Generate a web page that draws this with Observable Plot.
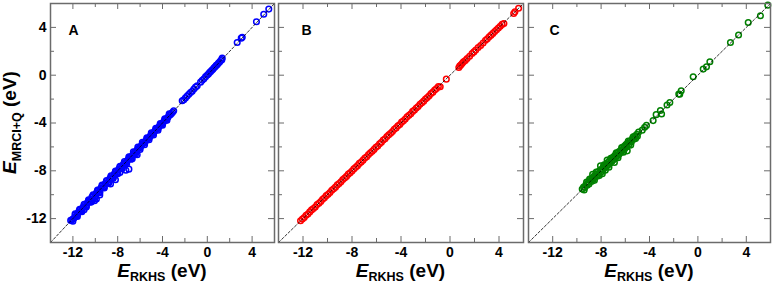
<!DOCTYPE html>
<html><head><meta charset="utf-8">
<script src="https://cdn.jsdelivr.net/npm/d3@7"></script>
<script src="https://cdn.jsdelivr.net/npm/@observablehq/plot@0.6"></script>
<style>
body{margin:0;background:#fff}
#chart{position:relative;width:772px;height:284px;font-family:"Liberation Sans",Arial,Helvetica,sans-serif}
#chart svg{position:absolute;top:0}
</style></head><body><div id="chart"></div>
<script>
const majorTicks = [-12, -8, -4, 0, 4];
const minorTicks = [-10, -6, -2, 2];
const diagonal = [-14, 6];
const panelLetters = ["A", "B", "C"];
const xTitle = ["E", "RKHS", "(eV)"];
const yTitle = ["E", "MRCI+Q", "(eV)"];

// Panel A (blue)
const rkhsA = [
 -12.2,-12.1,-12.0,-11.9,-11.8,-11.7,-11.6,-11.5,-11.4,-11.3,
 -11.2,-11.1,-11.0,-10.9,-10.8,-10.7,-10.6,-10.5,-10.4,-10.3,
 -10.2,-10.1,-10.0,-9.9,-9.8,-9.7,-9.6,-9.5,-9.4,-9.3,
 -9.2,-9.1,-9.0,-8.9,-8.8,-8.7,-8.6,-8.5,-8.4,-8.3,
 -8.2,-8.1,-8.0,-7.9,-7.8,-7.7,-7.6,-7.5,-7.4,-7.3,
 -7.2,-7.1,-7.0,-6.9,-6.8,-6.7,-6.6,-6.5,-6.4,-6.3,
 -6.2,-6.1,-6.0,-5.9,-5.8,-5.7,-5.6,-5.5,-5.4,-5.3,
 -5.2,-5.1,-5.0,-4.9,-4.8,-4.7,-4.6,-4.5,-4.4,-4.3,
 -4.2,-4.1,-4.0,-3.9,-3.8,-3.7,-3.6,-3.5,-3.4,-3.3,
 -3.2,-3.1,-3.0,
 -12.0,-11.6,-11.2,-10.8,-10.4,-10.0,-9.6,-9.2,-8.8,-8.4,-8.0,
 -7.6,-7.2,-6.8,-6.4,-6.0,-5.6,-5.2,-4.8,-4.4,-4.0,-3.6,
 -11.8,-11.4,-11.0,-10.6,-10.2,-9.8,-9.4,-9.0,-8.6,-8.2,-7.8,
 -7.4,-7.0,-6.6,-6.2,-5.8,-5.4,-5.0,-4.6,-4.2,-3.8,-3.4,
 -10.07,-10.3,-9.9,-9.6,-11.0,-8.64,-8.2,-7.8,-7.27,-7.0,-6.7,-6.26,
 -2.24,-2.1,-1.95,-1.8,-1.65,-1.5,-1.35,-1.2,-1.05,-0.9,
 -0.6,-0.45,-0.3,-0.15,0,0.1,0.2,0.3,0.4,0.5,
 0.6,0.7,0.8,0.9,1.0,1.1,1.2,1.3,1.33,
 2.67,3.03,3.12,4.39,5.04,5.49
];
const mrciA = [
 -12.15,-12.1,-12.05,-11.95,-11.7,-11.8,-11.65,-11.45,-11.3,-11.4,
 -11.3,-11.05,-10.9,-11.0,-10.95,-10.65,-10.5,-10.55,-10.6,-10.2,
 -10.1,-10.25,-10.15,-9.85,-9.7,-9.8,-9.75,-9.45,-9.3,-9.4,
 -9.35,-9.05,-8.9,-9.0,-8.95,-8.65,-8.5,-8.6,-8.55,-8.25,
 -8.1,-8.2,-8.15,-7.85,-7.7,-7.8,-7.7,-7.45,-7.35,-7.35,
 -7.25,-7.1,-6.95,-6.85,-6.9,-6.75,-6.55,-6.5,-6.45,-6.3,
 -6.15,-6.1,-6.05,-5.9,-5.75,-5.7,-5.65,-5.5,-5.35,-5.3,
 -5.25,-5.1,-4.95,-4.9,-4.85,-4.7,-4.55,-4.5,-4.45,-4.3,
 -4.15,-4.1,-4.05,-3.9,-3.75,-3.7,-3.6,-3.5,-3.35,-3.3,
 -3.2,-3.1,-2.98,
 -12.22,-11.82,-11.42,-11.02,-10.63,-10.22,-9.84,-9.43,-9.02,-8.63,-8.24,
 -7.83,-7.42,-7.03,-6.6,-6.22,-5.82,-5.4,-5.0,-4.6,-4.18,-3.78,
 -11.6,-11.22,-10.8,-10.42,-10.0,-9.62,-9.2,-8.82,-8.42,-8.02,-7.62,
 -7.22,-6.82,-6.42,-6.02,-5.62,-5.24,-4.82,-4.44,-4.04,-3.64,-3.24,
 -10.5,-10.55,-10.35,-10.03,-11.25,-9.1,-8.75,-8.15,-7.95,-7.86,-7.0,-6.66,
 -2.14,-2.05,-1.9,-1.75,-1.6,-1.45,-1.35,-1.15,-1.0,-0.89,
 -0.58,-0.42,-0.3,-0.12,0.02,0.1,0.22,0.3,0.42,0.5,
 0.62,0.7,0.82,0.9,1.02,1.1,1.22,1.3,1.43,
 2.74,3.1,3.18,4.47,5.1,5.53
];

// Panel B (red)
const rkhsB = [
 -12.2,-12.05,-11.9,-11.75,-11.6,-11.45,-11.3,-11.15,-11.0,-10.85,
 -10.7,-10.55,-10.4,-10.25,-10.1,-9.95,-9.8,-9.65,-9.5,-9.35,
 -9.2,-9.05,-8.9,-8.75,-8.6,-8.45,-8.3,-8.15,-8.0,-7.85,
 -7.7,-7.55,-7.4,-7.25,-7.1,-6.95,-6.8,-6.65,-6.5,-6.35,
 -6.2,-6.05,-5.9,-5.75,-5.6,-5.45,-5.3,-5.15,-5.0,-4.85,
 -4.7,-4.55,-4.4,-4.25,-4.1,-3.95,-3.8,-3.65,-3.5,-3.35,
 -3.2,-3.05,-2.9,-2.75,-2.6,-2.45,-2.3,-2.15,-2.0,-1.85,
 -1.7,-1.55,-1.4,-1.25,-1.1,-0.95,-0.8,
 -0.3,0.72,0.8,0.9,1.0,1.1,1.25,1.4,1.6,1.8,
 1.95,2.1,2.3,2.5,2.7,2.9,3.05,3.2,3.35,3.5,
 3.65,3.8,3.95,4.1,4.25,4.4,5.2,5.3,5.6
];
const mrciB = [
 -12.18,-12.03,-11.91,-11.72,-11.62,-11.44,-11.27,-11.16,-11.03,-10.83,
 -10.71,-10.57,-10.38,-10.26,-10.08,-9.96,-9.82,-9.63,-9.51,-9.37,
 -9.18,-9.06,-8.92,-8.73,-8.61,-8.47,-8.28,-8.16,-8.02,-7.84,
 -7.71,-7.57,-7.38,-7.26,-7.11,-6.93,-6.82,-6.64,-6.49,-6.37,
 -6.21,-6.03,-5.92,-5.74,-5.61,-5.43,-5.32,-5.14,-4.98,-4.86,
 -4.72,-4.53,-4.41,-4.24,-4.12,-3.93,-3.81,-3.66,-3.48,-3.36,
 -3.22,-3.03,-2.91,-2.74,-2.62,-2.43,-2.31,-2.17,-1.99,-1.86,
 -1.72,-1.53,-1.42,-1.24,-1.12,-0.94,-0.97,
 -0.33,0.64,0.78,0.88,1.0,1.12,1.22,1.4,1.58,1.82,
 1.95,2.1,2.32,2.48,2.7,2.92,3.05,3.22,3.35,3.5,
 3.66,3.8,3.95,4.1,4.25,4.33,5.16,5.3,5.6
];

// Panel C (green)
const rkhsC = [
 -9.56,-9.45,-9.35,-9.25,-9.15,-9.05,-9.0,-8.9,-8.8,-8.75,
 -8.7,-8.65,-8.6,-8.5,-8.45,-8.35,-8.3,-8.2,-8.1,-8.05,
 -8.0,-7.95,-7.9,-7.85,-7.8,-7.7,-7.6,-7.55,-7.5,-7.45,
 -7.4,-7.3,-7.25,-7.15,-7.1,-7.0,-6.95,-6.9,-6.85,-6.8,
 -6.7,-6.65,-6.55,-6.5,-6.4,-6.35,-6.25,-6.2,-6.1,-6.05,
 -5.95,-5.9,-5.84,-5.8,-5.7,-5.6,-5.5,-5.4,-5.3,-5.2,
 -5.05,-5.0,-4.9,
 -9.4,-9.2,-8.95,-8.55,-8.4,-8.15,-7.75,-7.65,-7.35,-7.2,
 -6.75,-6.6,-6.3,-6.15,-5.75,-5.55,-5.35,-5.15,
 -4.6,-4.4,-4.25,-3.7,-3.45,-3.1,-3.0,-2.55,-2.32,-1.58,
 -1.38,-1.5,-0.39,0.44,0.71,0.99,2.69,3.36,4.16,5.17,5.78
];
const mrciC = [
 -9.53,-9.35,-9.4,-9.15,-9.2,-8.95,-9.1,-8.8,-8.9,-8.6,
 -8.3,-8.7,-8.45,-8.55,-8.3,-8.45,-8.1,-8.3,-7.95,-7.58,
 -8.1,-7.85,-8.25,-7.95,-7.6,-7.75,-7.45,-7.65,-7.1,-7.3,
 -7.5,-7.15,-7.35,-7.0,-7.2,-6.85,-7.05,-7.3,-6.7,-6.9,
 -6.55,-6.75,-6.4,-6.6,-6.3,-6.45,-6.1,-6.3,-5.95,-6.15,
 -5.8,-6.0,-6.33,-5.65,-5.8,-5.5,-5.6,-5.3,-5.35,-5.1,
 -4.95,-5.1,-4.75,
 -9.6,-8.95,-8.7,-8.8,-8.1,-8.4,-7.5,-7.95,-7.7,-6.95,
 -6.5,-6.9,-6.05,-6.45,-5.5,-5.85,-5.15,-5.3,
 -4.6,-4.35,-4.2,-3.8,-3.3,-2.95,-3.25,-2.5,-2.28,-1.58,
 -1.3,-1.6,-0.13,0.51,0.7,1.12,2.74,3.36,4.41,4.97,5.86
];

const FONT = '"Liberation Sans", Arial, Helvetica, sans-serif';
const H = 284, MT = 3, MB = 42;
const frameColor = "#6b6b6b";

const panels = [
  {x: rkhsA, y: mrciA, color: "#0000ff", left: 0,   width: 276, ml: 50, mr: 2, yAxis: true,  ldx: 18},
  {x: rkhsB, y: mrciB, color: "#ff0000", left: 276, width: 249, ml: 2,  mr: 2, yAxis: false, ldx: 23},
  {x: rkhsC, y: mrciC, color: "#008000", left: 525, width: 247, ml: 3,  mr: 2, yAxis: false, ldx: 21}
];

const chart = document.getElementById("chart");

panels.forEach((p, i) => {
  const pts = p.x.map((v, k) => ({rkhs: v, mrci: p.y[k]}));
  const ph = H - MT - MB;
  const pw = p.width - p.ml - p.mr;
  const tk = {stroke: frameColor, strokeWidth: 1};
  const marks = [
    Plot.dot(pts, {x: "rkhs", y: "mrci", r: 2.8, stroke: p.color, strokeWidth: 1.5, fill: "none"}),
    Plot.line(diagonal, {x: d => d, y: d => d, stroke: "#000", strokeWidth: 0.8, strokeDasharray: "2.5,2"}),
    Plot.ruleX(majorTicks, {...tk, insetTop: ph - 6}),
    Plot.ruleX(majorTicks, {...tk, insetBottom: ph - 6}),
    Plot.ruleX(minorTicks, {...tk, insetTop: ph - 4}),
    Plot.ruleX(minorTicks, {...tk, insetBottom: ph - 4}),
    Plot.ruleY(majorTicks, {...tk, insetRight: pw - 6}),
    Plot.ruleY(majorTicks, {...tk, insetLeft: pw - 6}),
    Plot.ruleY(minorTicks, {...tk, insetRight: pw - 4}),
    Plot.ruleY(minorTicks, {...tk, insetLeft: pw - 4}),
    Plot.frame({stroke: frameColor, strokeWidth: 1.5}),
    Plot.axisX({ticks: majorTicks, tickSize: 0, tickPadding: 5, tickFormat: d => String(d),
      fontSize: 14, fontWeight: "bold", label: null, fill: "#000"}),
    Plot.text([panelLetters[i]], {text: d => d, frameAnchor: "top-left", dx: p.ldx, dy: 22,
      fontSize: 14, fontWeight: "bold", fill: "#000"})
  ];
  if (p.yAxis) {
    marks.push(Plot.axisY({ticks: majorTicks, tickSize: 0, tickPadding: 4, tickFormat: d => String(d),
      fontSize: 14, fontWeight: "bold", label: null, fill: "#000"}));
  }
  const svgEl = Plot.plot({
    width: p.width, height: H,
    marginTop: MT, marginBottom: MB, marginLeft: p.ml, marginRight: p.mr,
    x: {domain: [-14, 6], axis: null},
    y: {domain: [-14, 6], axis: null},
    style: {fontFamily: FONT, background: "transparent", overflow: "visible"},
    marks
  });
  svgEl.style.left = p.left + "px";
  chart.appendChild(svgEl);

  const svg = d3.select(svgEl);
  const cx = p.ml + pw / 2;
  const t = svg.append("text")
    .attr("x", cx).attr("y", 277)
    .attr("text-anchor", "middle")
    .attr("font-family", FONT).attr("font-weight", "bold").attr("font-size", 19).attr("fill", "#000");
  t.append("tspan").attr("font-style", "italic").text(xTitle[0]);
  t.append("tspan").attr("font-size", 12.5).attr("dy", 4).text(xTitle[1]);
  t.append("tspan").attr("dy", -4).text("\u00a0" + xTitle[2]);

  if (p.yAxis) {
    const cy = MT + ph / 2;
    const ty = svg.append("text")
      .attr("transform", `translate(16,${cy}) rotate(-90)`)
      .attr("text-anchor", "middle")
      .attr("font-family", FONT).attr("font-weight", "bold").attr("font-size", 19).attr("fill", "#000");
    ty.append("tspan").attr("font-style", "italic").text(yTitle[0]);
    ty.append("tspan").attr("font-size", 12.5).attr("dy", 5).text(yTitle[1]);
    ty.append("tspan").attr("dy", -5).text("\u00a0" + yTitle[2]);
  }
});
</script>
</body></html>
